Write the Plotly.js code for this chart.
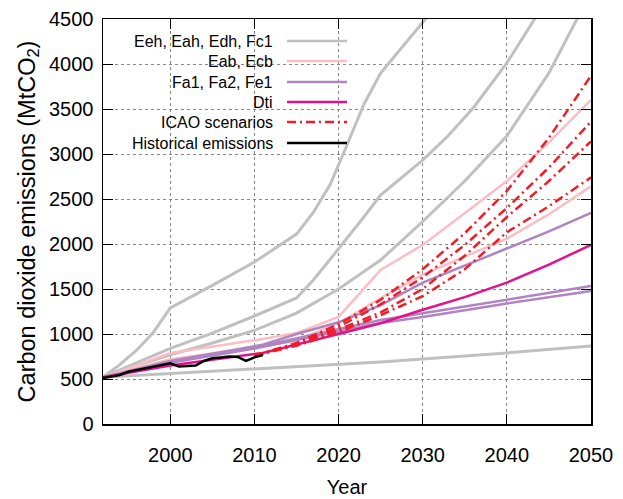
<!DOCTYPE html>
<html>
<head>
<meta charset="utf-8">
<script src="https://cdn.plot.ly/plotly-3.0.1.min.js"></script>
<style>html,body{margin:0;padding:0;background:#fff;}#chart{width:623px;height:499px;}</style>
</head>
<body>
<div id="chart"></div>
<script>
// ---- Data ----
const grayNames = ["Eeh", "Eah", "Edh", "Fc1"];
const gray1Years = [1992, 1994, 1996, 1998, 2000, 2005, 2010, 2015, 2017, 2019, 2021, 2023, 2025, 2027, 2029, 2031, 2033];
const gray1Vals  = [520, 660, 820, 1020, 1290, 1540, 1800, 2110, 2350, 2660, 3100, 3550, 3900, 4130, 4350, 4580, 4800];
const gray2Years = [1992, 1996, 2000, 2005, 2010, 2015, 2017, 2019, 2021, 2023, 2025, 2027, 2030, 2033, 2036, 2040, 2043, 2046];
const gray2Vals  = [520, 680, 840, 1010, 1200, 1400, 1600, 1830, 2060, 2300, 2544, 2700, 2933, 3200, 3511, 4011, 4450, 4900];
const gray3Years = [1992, 1996, 2000, 2005, 2010, 2015, 2020, 2025, 2030, 2035, 2040, 2045, 2050];
const gray3Vals  = [520, 650, 770, 900, 1040, 1233, 1500, 1822, 2250, 2700, 3200, 3900, 4800];
const gray4Years = [1992, 2000, 2010, 2015, 2020, 2025, 2030, 2040, 2050];
const gray4Vals  = [520, 560, 610, 633, 660, 690, 722, 790, 867];

const pinkNames = ["Eab", "Ecb"];
const pink1Years = [1992, 1996, 2000, 2005, 2011, 2015, 2020, 2025, 2030, 2036, 2040, 2045, 2050];
const pink1Vals  = [520, 650, 790, 860, 944, 1010, 1190, 1711, 1990, 2415, 2700, 3130, 3600];
const pink2Years = [1992, 2000, 2011, 2015, 2020, 2025, 2030, 2036, 2040, 2045, 2050];
const pink2Vals  = [520, 720, 860, 930, 1120, 1400, 1660, 1900, 2060, 2330, 2640];

const purpleNames = ["Fa1", "Fa2", "Fe1"];
const purple1Years = [1992, 2000, 2011, 2015, 2020, 2025, 2030, 2035, 2040, 2045, 2050];
const purple1Vals  = [520, 700, 880, 1000, 1130, 1320, 1570, 1760, 1950, 2140, 2345];
const purple2Years = [1992, 2000, 2010, 2015, 2020, 2025, 2030, 2040, 2050];
const purple2Vals  = [520, 690, 850, 950, 1050, 1156, 1230, 1380, 1533];
const purple3Years = [1992, 2000, 2010, 2015, 2020, 2025, 2030, 2040, 2050];
const purple3Vals  = [520, 680, 840, 935, 1030, 1122, 1190, 1340, 1478];

const dtiYears = [1992, 2000, 2011, 2015, 2020, 2025, 2030, 2035, 2040, 2045, 2050];
const dtiVals  = [520, 650, 790, 880, 1000, 1119, 1270, 1410, 1570, 1770, 1990];

const icaoYears = [2010, 2015, 2020, 2025, 2030, 2035, 2040, 2045, 2050];
const icao1Vals = [760, 900, 1110, 1380, 1720, 2120, 2590, 3180, 3870];
const icao2Vals = [760, 890, 1080, 1330, 1630, 1990, 2400, 2850, 3360];
const icao3Vals = [760, 880, 1050, 1240, 1500, 1870, 2300, 2700, 3140];
const icao4Vals = [760, 870, 1020, 1210, 1420, 1720, 2130, 2420, 2740];

const histYears = [1992, 1993, 1994, 1995, 1996, 1997, 1998, 1999, 2000, 2001, 2002, 2003, 2004, 2005, 2006, 2007, 2008, 2009, 2010, 2011];
const histVals  = [510, 525, 545, 580, 600, 620, 640, 655, 675, 640, 645, 650, 700, 730, 740, 750, 745, 700, 740, 765];

const legendLabels = ["Eeh, Eah, Edh, Fc1", "Eab, Ecb", "Fa1, Fa2, Fe1", "Dti", "ICAO scenarios", "Historical emissions"];
const xTickVals = [2000, 2010, 2020, 2030, 2040, 2050];
const yTickVals = [0, 500, 1000, 1500, 2000, 2500, 3000, 3500, 4000, 4500];

// ---- Styles ----
const GRAY = "rgb(192,192,192)";
const PINK = "rgb(250,190,196)";
const PURPLE = "rgb(176,132,194)";
const DTI = "rgb(226,18,140)";
const RED = "rgb(240,28,40)";
const BLACK = "#000";
const REDDASH = "9px,4px,2px,4px";
const FONT = "Liberation Sans, Arial, Helvetica, sans-serif";

function tr(x, y, color, width, dash, name) {
  return {x: x, y: y, type: "scatter", mode: "lines", name: name, showlegend: false,
          line: {color: color, width: width, dash: dash || "solid"}, hoverinfo: "skip"};
}

const traces = [
  tr(gray1Years, gray1Vals, GRAY, 3, null, grayNames[0]),
  tr(gray2Years, gray2Vals, GRAY, 3, null, grayNames[1]),
  tr(gray3Years, gray3Vals, GRAY, 3, null, grayNames[2]),
  tr(gray4Years, gray4Vals, GRAY, 3, null, grayNames[3]),
  tr(pink1Years, pink1Vals, PINK, 2.5, null, pinkNames[0]),
  tr(pink2Years, pink2Vals, PINK, 2.5, null, pinkNames[1]),
  tr(purple1Years, purple1Vals, PURPLE, 2.5, null, purpleNames[0]),
  tr(purple2Years, purple2Vals, PURPLE, 2.5, null, purpleNames[1]),
  tr(purple3Years, purple3Vals, PURPLE, 2.5, null, purpleNames[2]),
  tr(dtiYears, dtiVals, DTI, 2.5, null, "Dti"),
  tr(icaoYears, icao1Vals, RED, 2.5, REDDASH, "ICAO 1"),
  tr(icaoYears, icao2Vals, RED, 2.5, REDDASH, "ICAO 2"),
  tr(icaoYears, icao3Vals, RED, 2.5, REDDASH, "ICAO 3"),
  tr(icaoYears, icao4Vals, RED, 2.5, REDDASH, "ICAO 4"),
  tr(histYears, histVals, BLACK, 2.5, null, "Historical emissions")
];

// ---- Custom legend (sample line to the right of the text) ----
const L = 103, R = 591, T = 19, B = 424;
const px = v => (v - L) / (R - L);
const py = v => (B - v) / (B - T);
const legendColors = [GRAY, PINK, PURPLE, DTI, RED, BLACK];
const legendDash = ["solid", "solid", "solid", "solid", REDDASH, "solid"];
const legendRows = [41, 61, 82, 102, 122, 143];

const shapes = [{
  type: "rect", xref: "paper", yref: "paper", x0: 0, x1: px(357), y0: py(151), y1: 1,
  fillcolor: "#fff", line: {width: 0}, layer: "between"
}];
const annotations = [];
legendLabels.forEach((lab, i) => {
  annotations.push({xref: "paper", yref: "paper", x: px(275), y: py(legendRows[i]), xanchor: "right", yanchor: "middle",
    text: lab, showarrow: false, font: {family: FONT, size: 16, color: "#000"}});
  shapes.push({type: "line", xref: "paper", yref: "paper", x0: px(287), x1: px(347), y0: py(legendRows[i]), y1: py(legendRows[i]),
    line: {color: legendColors[i], width: 2.5, dash: legendDash[i]}, layer: "above"});
});

const tickFont = {family: FONT, size: 20, color: "#000"};
const layout = {
  width: 623, height: 499,
  margin: {l: L, r: 623 - R, t: T, b: 499 - B, pad: 0},
  paper_bgcolor: "#fff", plot_bgcolor: "#fff",
  showlegend: false,
  font: tickFont,
  xaxis: {
    range: [1992, 2050], tickmode: "array", tickvals: xTickVals, ticktext: xTickVals.map(String),
    ticks: "inside", ticklen: 10, tickwidth: 1, tickcolor: "#000",
    showline: true, linecolor: "#000", linewidth: 1.5, mirror: "ticks",
    showgrid: true, gridcolor: "#888", gridwidth: 1, griddash: "dot", zeroline: false,
    tickfont: tickFont, ticklabelstandoff: 12,
    title: {text: "Year", font: {family: FONT, size: 20, color: "#000"}, standoff: 15}
  },
  yaxis: {
    range: [0, 4500], tickmode: "array", tickvals: yTickVals, ticktext: yTickVals.map(String),
    ticks: "inside", ticklen: 10, tickwidth: 1, tickcolor: "#000",
    showline: true, linecolor: "#000", linewidth: 1.5, mirror: "ticks",
    showgrid: true, gridcolor: "#888", gridwidth: 1, griddash: "dot", zeroline: false,
    tickfont: tickFont, ticklabelstandoff: 4,
    title: {text: "Carbon dioxide emissions (MtCO<sub>2</sub>)", font: {family: FONT, size: 23.5, color: "#000"}, standoff: 7}
  },
  shapes: shapes,
  annotations: annotations
};

Plotly.newPlot("chart", traces, layout, {displayModeBar: false, staticPlot: true});
</script>
</body>
</html>
